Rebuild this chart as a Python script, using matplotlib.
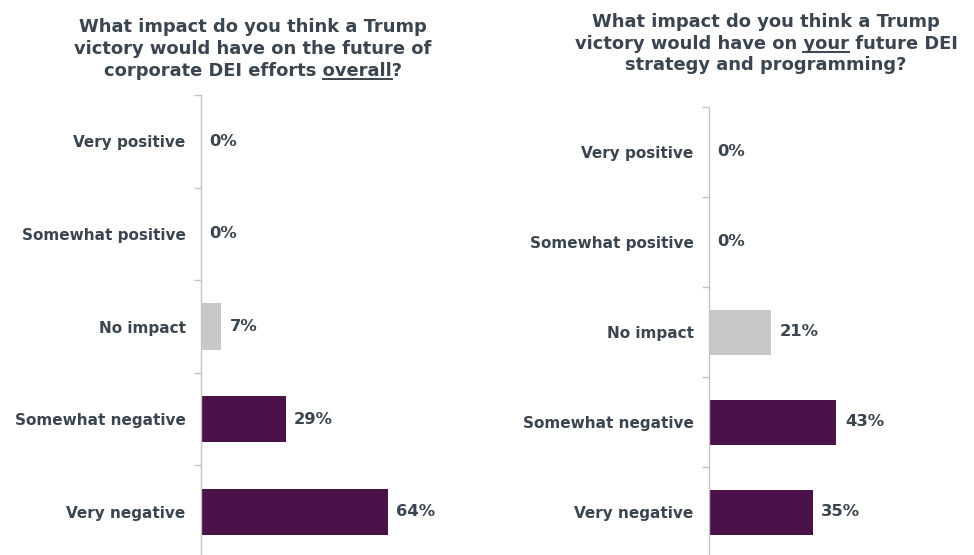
import matplotlib
matplotlib.use("Agg")
import matplotlib.pyplot as plt
import numpy as np

plt.rcParams["font.family"] = ["DejaVu Sans"]

# survey answers, top to bottom
categories = ["Very positive", "Somewhat positive", "No impact",
              "Somewhat negative", "Very negative"]
overall_pct = [0, 0, 7, 29, 64]
yours_pct = [0, 0, 21, 43, 35]

title_left = ["What impact do you think a Trump",
              "victory would have on the future of",
              "corporate DEI efforts overall?"]
title_right = ["What impact do you think a Trump",
               "victory would have on your future DEI",
               "strategy and programming?"]

PURPLE = "#4a1248"
GREY = "#c6c8ca"
TEXT = "#3b4550"
AXIS = "#c4c4c4"
bar_colors = [PURPLE, PURPLE, GREY, PURPLE, PURPLE]

W, H = 974, 555
fig = plt.figure(figsize=(W / 100, H / 100), dpi=100)
fig.patch.set_facecolor("white")


def px_axes(x0, y_top, y_bot, width):
    # pixel box (top-left origin) -> figure fraction
    return fig.add_axes([x0 / W, (H - y_bot) / H, width / W, (y_bot - y_top) / H])


def draw_panel(ax, values, xmax):
    y = np.arange(len(categories))
    ax.barh(y, values, height=0.5, color=bar_colors)
    ax.set_xlim(0, xmax)
    ax.set_ylim(len(categories) - 0.5, -0.5)
    for s in ["top", "right", "bottom"]:
        ax.spines[s].set_visible(False)
    ax.spines["left"].set_color(AXIS)
    ax.spines["left"].set_linewidth(1.0)
    ax.set_xticks([])
    ax.set_yticks(y)
    ax.set_yticklabels(categories, fontsize=11, fontweight="bold", color=TEXT)
    ax.tick_params(axis="y", which="major", length=0, pad=11)
    ax.set_yticks(np.arange(len(categories) + 1) - 0.5, minor=True)
    ax.tick_params(axis="y", which="minor", length=5, color=AXIS, width=1)
    for yi, v in zip(y, values):
        ax.annotate(f"{v}%", (v, yi), xytext=(6, 0), textcoords="offset points",
                    va="center", ha="left", fontsize=11.8, fontweight="bold",
                    color=TEXT)


def draw_title(lines, xc, ys, uline, word):
    renderer = fig.canvas.get_renderer()
    for i, (line, yp) in enumerate(zip(lines, ys)):
        t = fig.text(xc / W, (H - yp) / H, line, ha="center", va="baseline",
                     fontsize=12.9, fontweight="bold", color=TEXT)
        if i != uline:
            continue
        bb = t.get_window_extent(renderer)
        head = line[:line.index(word) + len(word)]
        probe = fig.text(0, 0, head, fontsize=12.9, fontweight="bold")
        w_head = probe.get_window_extent(renderer).width
        probe.set_text(word)
        w_word = probe.get_window_extent(renderer).width
        probe.remove()
        x1 = bb.x0 + w_head
        x0 = x1 - w_word
        yb = (H - yp) - 3
        fig.add_artist(plt.Line2D([x0 / W, x1 / W], [yb / H, yb / H],
                                  transform=fig.transFigure, color=TEXT, lw=1.4))


ax1 = px_axes(201, 95, 558, 263)
draw_panel(ax1, overall_pct, 90)
ax2 = px_axes(709, 107, 557, 252)
draw_panel(ax2, yours_pct, 85)

draw_title(title_left, 253, [32, 54, 76], 2, "overall")
draw_title(title_right, 766, [27, 49, 70], 1, "your")

fig.savefig("out.png", dpi=100, facecolor="white")
